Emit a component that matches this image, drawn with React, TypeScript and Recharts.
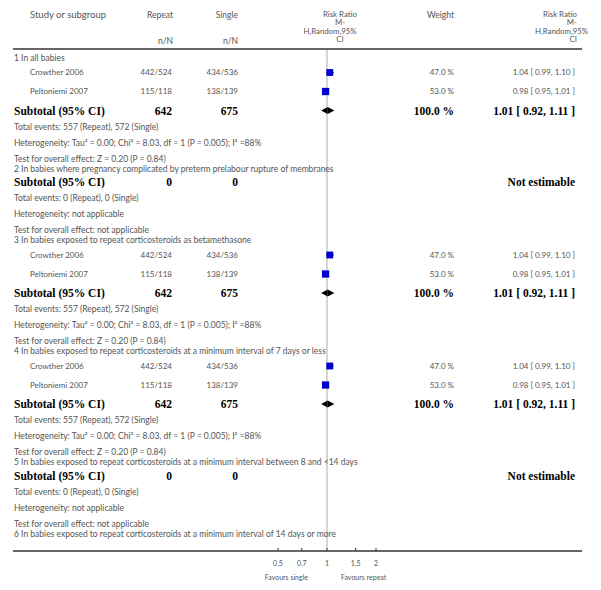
import React from 'react';
import {
  ScatterChart,
  Scatter,
  XAxis,
  YAxis,
  ErrorBar,
  ReferenceArea,
} from 'recharts';

// studies (same two trials feed subgroups 1, 3 and 4)
const studyNames = ['Crowther 2006', 'Peltoniemi 2007'];
const repeatEvents = [442, 115];
const repeatTotals = [524, 118];
const singleEvents = [434, 138];
const singleTotals = [536, 139];
const studyWeights = [47.0, 53.0];
const studyRR = [1.04, 0.98];
const studyLow = [0.99, 0.95];
const studyHigh = [1.1, 1.01];

// subgroups
const subgroupTitles = [
  '1 In all babies',
  '2 In babies where pregnancy complicated by preterm prelabour rupture of membranes',
  '3 In babies exposed to repeat corticosteroids as betamethasone',
  '4 In babies exposed to repeat corticosteroids at a minimum interval of 7 days or less',
  '5 In babies exposed to repeat corticosteroids at a minimum interval between 8 and <14 days',
  '6 In babies exposed to repeat corticosteroids at a minimum interval of 14 days or more',
];
const subgroupStudies = [[0, 1], [], [0, 1], [0, 1], [], []];
const subgroupHasSubtotal = [true, true, true, true, true, false];
const pooledRR = [1.01, null, 1.01, 1.01, null, null];
const pooledLow = [0.92, null, 0.92, 0.92, null, null];
const pooledHigh = [1.11, null, 1.11, 1.11, null, null];
const tau2 = [0.0, null, 0.0, 0.0, null, null];
const chi2 = [8.03, null, 8.03, 8.03, null, null];
const hetDf = [1, null, 1, 1, null, null];
const hetP = ['0.005', null, '0.005', '0.005', null, null];
const iSquared = [88, null, 88, 88, null, null];
const zValue = [0.2, null, 0.2, 0.2, null, null];
const zP = ['0.84', null, '0.84', '0.84', null, null];

// axis
const axisTicks = [0.5, 0.7, 1, 1.5, 2];

const FONT = 'Lato, "Open Sans", sans-serif';
const SERIF = '"Liberation Serif", "DejaVu Serif", serif';
const GREY = '#555';

const fmtCI = (rr: number, lo: number, hi: number) =>
  `${rr.toFixed(2)} [ ${lo.toFixed(2)}, ${hi.toFixed(2)} ]`;

const buildRows = () => {
  const rows: any[] = [];
  subgroupTitles.forEach((title, g) => {
    rows.push({ kind: 'title', label: title });
    const ids = subgroupStudies[g];
    ids.forEach((i) => {
      rows.push({
        kind: 'study',
        label: studyNames[i],
        repeat: `${repeatEvents[i]}/${repeatTotals[i]}`,
        single: `${singleEvents[i]}/${singleTotals[i]}`,
        weight: `${studyWeights[i].toFixed(1)} %`,
        ci: fmtCI(studyRR[i], studyLow[i], studyHigh[i]),
        rr: studyRR[i],
        err: [studyRR[i] - studyLow[i], studyHigh[i] - studyRR[i]],
        w: studyWeights[i],
      });
    });
    if (!subgroupHasSubtotal[g]) return;
    const sum = (arr: number[]) => ids.reduce((s, i) => s + arr[i], 0);
    const has = ids.length > 0;
    rows.push({
      kind: 'subtotal',
      label: 'Subtotal (95% CI)',
      repeat: String(sum(repeatTotals)),
      single: String(sum(singleTotals)),
      weight: has ? '100.0 %' : '',
      ci: has ? fmtCI(pooledRR[g]!, pooledLow[g]!, pooledHigh[g]!) : 'Not estimable',
      rr: pooledRR[g],
      lo: pooledLow[g],
      hi: pooledHigh[g],
    });
    rows.push({
      kind: 'info',
      label: `Total events: ${sum(repeatEvents)} (Repeat), ${sum(singleEvents)} (Single)`,
    });
    rows.push({
      kind: 'info',
      label: has
        ? `Heterogeneity: Tau\u00b2 = ${tau2[g]!.toFixed(2)}; Chi\u00b2 = ${chi2[g]!.toFixed(2)}, df = ${hetDf[g]} (P = ${hetP[g]}); I\u00b2 =${iSquared[g]}%`
        : 'Heterogeneity: not applicable',
    });
    rows.push({
      kind: 'info',
      label: has
        ? `Test for overall effect: Z = ${zValue[g]!.toFixed(2)} (P = ${zP[g]})`
        : 'Test for overall effect: not applicable',
    });
  });

  // vertical layout: gap to previous row depends on the two kinds
  let y = 49;
  let prev = 'rule';
  rows.forEach((r) => {
    let gap = 16;
    if (r.kind === 'title') gap = prev === 'rule' ? 9 : 10;
    else if (r.kind === 'study') gap = prev === 'title' ? 14.5 : 19;
    else if (r.kind === 'subtotal') gap = prev === 'title' ? 13 : 19;
    else if (prev === 'subtotal') gap = 16.5;
    y += gap;
    r.y = y;
    prev = r.kind;
  });
  return rows;
};

const rows = buildRows();
const textRows = [{ kind: 'header', y: 49 }, ...rows].map((r) => ({ ...r, x: 1 }));
const studyRows = rows.filter((r) => r.kind === 'study').map((r) => ({ ...r, x: r.rr }));
const diamondRows = rows.filter((r) => r.kind === 'subtotal' && r.rr != null);

const T = ({ x, y, anchor = 'start', bold = false, size, children }: any) => (
  <text
    x={x}
    y={y}
    dy="0.35em"
    textAnchor={anchor}
    fontFamily={bold ? SERIF : FONT}
    fontWeight={bold ? 700 : 400}
    fontSize={size ?? (bold ? 11.5 : 8.5)}
    fill={bold ? '#000' : GREY}
  >
    {children}
  </text>
);

const RowText = (props: any) => {
  const { cy, payload: r } = props;
  if (r.kind === 'header') {
    return (
      <g>
        <T x={30} y={cy - 34} size={9.5}>Study or subgroup</T>
        <T x={173} y={cy - 34} anchor="end">Repeat</T>
        <T x={238} y={cy - 34} anchor="end">Single</T>
        <T x={173} y={cy - 8} anchor="end">n/N</T>
        <T x={238} y={cy - 8} anchor="end">n/N</T>
        <T x={340} y={cy - 35} anchor="middle" size={7.8}>Risk Ratio</T>
        <T x={340} y={cy - 26.5} anchor="middle" size={7.8}>M-</T>
        <T x={330} y={cy - 18} anchor="middle" size={7.8}>H,Random,95%</T>
        <T x={340} y={cy - 9.5} anchor="middle" size={7.8}>CI</T>
        <T x={454} y={cy - 34} anchor="end">Weight</T>
        <T x={577} y={cy - 35} anchor="end" size={7.8}>Risk Ratio</T>
        <T x={577} y={cy - 26.5} anchor="end" size={7.8}>M-</T>
        <T x={588} y={cy - 18} anchor="end" size={7.8}>H,Random,95%</T>
        <T x={577} y={cy - 9.5} anchor="end" size={7.8}>CI</T>
        <line x1={13} x2={582} y1={cy} y2={cy} stroke="#333" strokeWidth={1.5} />
      </g>
    );
  }
  if (r.kind === 'title' || r.kind === 'info') {
    return <T x={14} y={cy}>{r.label}</T>;
  }
  if (r.kind === 'study') {
    return (
      <g>
        <T x={30} y={cy} size={8}>{r.label}</T>
        <T x={172} y={cy} anchor="end" size={8}>{r.repeat}</T>
        <T x={238} y={cy} anchor="end" size={8}>{r.single}</T>
        <T x={454} y={cy} anchor="end" size={8}>{r.weight}</T>
        <T x={575} y={cy} anchor="end" size={8}>{r.ci}</T>
      </g>
    );
  }
  return (
    <g>
      <T x={14} y={cy} bold>{r.label}</T>
      <T x={172} y={cy} anchor="end" bold>{r.repeat}</T>
      <T x={238} y={cy} anchor="end" bold>{r.single}</T>
      <T x={454} y={cy} anchor="end" bold>{r.weight}</T>
      <T x={575} y={cy} anchor="end" bold>{r.ci}</T>
    </g>
  );
};

const StudySquare = (props: any) => {
  const { cx, cy, payload } = props;
  const s = Math.sqrt(payload.w);
  return <rect x={cx - s / 2} y={cy - s / 2} width={s} height={s} fill="#0000cc" />;
};

const AxisTick = (props: any) => {
  const { x, y, payload } = props;
  return (
    <g>
      <line x1={x} x2={x} y1={y - 3} y2={y} stroke="#333" strokeWidth={1} />
      <T x={x} y={y + 13} anchor="middle" size={7}>{payload.value}</T>
    </g>
  );
};

const AxisFooter = (props: any) => {
  const { viewBox } = props;
  const mid = viewBox.x + viewBox.width / 2;
  return (
    <g>
      <line x1={13} x2={582} y1={viewBox.y} y2={viewBox.y} stroke="#333" strokeWidth={1.5} />
      <T x={mid - 19} y={viewBox.y + 27} anchor="end" size={7}>Favours single</T>
      <T x={mid + 14} y={viewBox.y + 27} size={7}>Favours repeat</T>
    </g>
  );
};

// line of no effect, drawn from a zero-width reference area
const noEffectLine = (p: any) => {
  const { x, y, height } = p;
  return <line x1={x} x2={x} y1={y} y2={y + height} stroke="#c8c8c8" strokeWidth={1.5} />;
};
const leftHalf = (p: any) => {
  const { x, y, width, height } = p;
  return <polygon points={`${x},${y + height / 2} ${x + width},${y} ${x + width},${y + height}`} fill="#000" />;
};
const rightHalf = (p: any) => {
  const { x, y, width, height } = p;
  return <polygon points={`${x},${y} ${x + width},${y + height / 2} ${x},${y + height}`} fill="#000" />;
};

export default function App() {
  return (
    <div style={{ position: 'absolute', left: 0, top: 0, background: '#fff' }}>
      <ScatterChart width={601} height={590} margin={{ top: 0, right: 225, bottom: 0, left: 278 }}>
        <XAxis
          type="number"
          dataKey="x"
          scale="log"
          domain={[0.5, 2]}
          ticks={axisTicks}
          interval={0}
          axisLine={false}
          tickLine={false}
          tickSize={0}
          tickMargin={0}
          height={39}
          tick={<AxisTick />}
          label={{ content: <AxisFooter /> }}
        />
        <YAxis type="number" dataKey="y" domain={[0, 551]} reversed hide />
        <ReferenceArea x1={1} x2={1} y1={50} y2={549} shape={noEffectLine} />
        {diamondRows.map((r, i) => (
          <ReferenceArea key={`l${i}`} x1={r.lo} x2={r.rr} y1={r.y - 3.5} y2={r.y + 3.5} shape={leftHalf} />
        ))}
        {diamondRows.map((r, i) => (
          <ReferenceArea key={`r${i}`} x1={r.rr} x2={r.hi} y1={r.y - 3.5} y2={r.y + 3.5} shape={rightHalf} />
        ))}
        <Scatter data={textRows} shape={<RowText />} isAnimationActive={false} />
        <Scatter data={studyRows} shape={<StudySquare />} isAnimationActive={false}>
          <ErrorBar dataKey="err" direction="x" width={0} stroke="#000" strokeWidth={1} isAnimationActive={false} />
        </Scatter>
      </ScatterChart>
    </div>
  );
}
